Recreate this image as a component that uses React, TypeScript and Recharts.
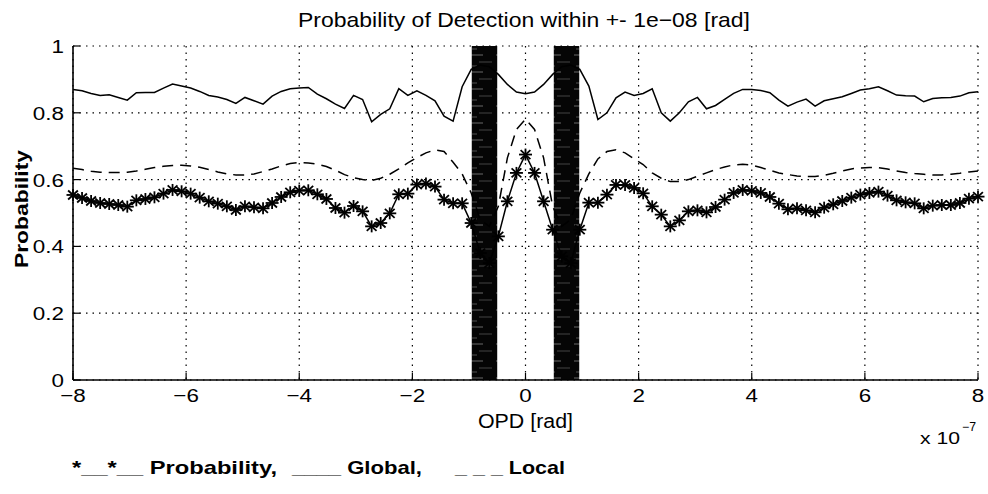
import React from "react";
import {
  CartesianGrid,
  Line,
  LineChart,
  ReferenceArea,
  XAxis,
  YAxis,
} from "recharts";

// OPD in units of 1e-7 rad
const opd = [
  -8, -7.84, -7.68, -7.52, -7.36, -7.2, -7.04, -6.88, -6.72, -6.56,
  -6.4, -6.24, -6.08, -5.92, -5.76, -5.6, -5.44, -5.28, -5.12, -4.96,
  -4.8, -4.64, -4.48, -4.32, -4.16, -4, -3.84, -3.68, -3.52, -3.36,
  -3.2, -3.04, -2.88, -2.72, -2.56, -2.4, -2.24, -2.08, -1.92, -1.76,
  -1.6, -1.44, -1.28, -1.12, -0.96, -0.8, -0.64, -0.48, -0.32, -0.16,
  0,
  0.16, 0.32, 0.48, 0.64, 0.8, 0.96, 1.12, 1.28, 1.44, 1.6,
  1.76, 1.92, 2.08, 2.24, 2.4, 2.56, 2.72, 2.88, 3.04, 3.2,
  3.36, 3.52, 3.68, 3.84, 4, 4.16, 4.32, 4.48, 4.64, 4.8,
  4.96, 5.12, 5.28, 5.44, 5.6, 5.76, 5.92, 6.08, 6.24, 6.4,
  6.56, 6.72, 6.88, 7.04, 7.2, 7.36, 7.52, 7.68, 7.84, 8,
];

const probability = [
  0.554, 0.545, 0.536, 0.53, 0.527, 0.524, 0.519, 0.538, 0.542, 0.547,
  0.558, 0.569, 0.565, 0.558, 0.546, 0.535, 0.528, 0.52, 0.509, 0.52,
  0.517, 0.514, 0.53, 0.548, 0.562, 0.567, 0.568, 0.556, 0.542, 0.515,
  0.501, 0.521, 0.505, 0.46, 0.47, 0.499, 0.556, 0.558, 0.585, 0.588,
  0.579, 0.54, 0.529, 0.529, 0.47, 0.38, 0.35, 0.43, 0.535, 0.62,
  0.675,
  0.62, 0.535, 0.45, 0.37, 0.35, 0.45, 0.531, 0.531, 0.555, 0.584,
  0.584, 0.575, 0.559, 0.52, 0.495, 0.46, 0.478, 0.505, 0.508, 0.502,
  0.518, 0.54, 0.56, 0.569, 0.566, 0.56, 0.548, 0.528, 0.511, 0.514,
  0.508, 0.502, 0.516, 0.526, 0.536, 0.546, 0.555, 0.56, 0.564, 0.552,
  0.538, 0.532, 0.529, 0.514, 0.522, 0.524, 0.524, 0.53, 0.543, 0.549,
];

const globalDet = [
  0.87, 0.866, 0.858, 0.852, 0.854, 0.846, 0.838, 0.86, 0.861, 0.861,
  0.874, 0.886, 0.88, 0.874, 0.864, 0.852, 0.847, 0.84, 0.828, 0.846,
  0.836, 0.826, 0.85, 0.864, 0.872, 0.874, 0.876, 0.856, 0.842, 0.826,
  0.813, 0.852, 0.84, 0.773, 0.795, 0.812, 0.872, 0.852, 0.866, 0.852,
  0.836, 0.79, 0.775, 0.878, 0.93, 0.943, 0.938, 0.915, 0.885, 0.862,
  0.857,
  0.862, 0.885, 0.915, 0.938, 0.943, 0.93, 0.88, 0.78, 0.8, 0.845,
  0.862, 0.852, 0.858, 0.872, 0.8, 0.775, 0.8, 0.833, 0.846, 0.812,
  0.822, 0.84, 0.858, 0.87, 0.87, 0.867, 0.86, 0.838, 0.82, 0.832,
  0.841, 0.82, 0.836, 0.842, 0.848, 0.858, 0.868, 0.872, 0.878, 0.866,
  0.853, 0.851, 0.85, 0.833, 0.843, 0.845, 0.846, 0.85, 0.86, 0.863,
];

const localDet = [
  0.634, 0.63, 0.625, 0.622, 0.621, 0.621, 0.622, 0.626, 0.631, 0.636,
  0.64, 0.642, 0.643, 0.641, 0.637, 0.63, 0.623, 0.617, 0.614, 0.614,
  0.617, 0.624, 0.632, 0.641, 0.648, 0.651, 0.65, 0.646, 0.639, 0.628,
  0.615, 0.606, 0.6, 0.597, 0.604, 0.616, 0.632, 0.65, 0.666, 0.68,
  0.689, 0.684, 0.652, 0.617, 0.56, 0.48, 0.46, 0.52, 0.665, 0.75,
  0.781,
  0.75, 0.665, 0.52, 0.46, 0.48, 0.56, 0.617, 0.662, 0.684, 0.689,
  0.68, 0.662, 0.645, 0.62, 0.604, 0.594, 0.594, 0.6, 0.61, 0.62,
  0.63, 0.638, 0.644, 0.646, 0.643, 0.636, 0.628, 0.62, 0.615, 0.611,
  0.609, 0.609, 0.613, 0.619, 0.626, 0.632, 0.635, 0.636, 0.636, 0.632,
  0.626, 0.621, 0.618, 0.616, 0.614, 0.614, 0.616, 0.619, 0.623, 0.626,
];

// shaded bands (x from, x to)
const bands = [
  [-0.95, -0.5],
  [0.5, 0.95],
];

const xTicks = [-8, -6, -4, -2, 0, 2, 4, 6, 8];
const yTicks = [0, 0.2, 0.4, 0.6, 0.8, 1];

const FONT = "'Liberation Sans', Arial, Helvetica, sans-serif";

const data = opd.map((x, i) => ({
  x,
  prob: probability[i],
  glob: globalDet[i],
  loc: localDet[i],
}));

const fmt = (v: number) => (v < 0 ? "\u2212" + Math.abs(v) : String(v));

const XTick = (props: any) => {
  const { x, y, payload } = props;
  return (
    <g transform={`translate(${x} ${y}) scale(1.18 1)`}>
      <text x={0} y={14} textAnchor="middle" fontFamily={FONT} fontSize={19} fill="#000">
        {fmt(payload.value)}
      </text>
    </g>
  );
};

const YTick = (props: any) => {
  const { x, y, payload } = props;
  return (
    <g transform={`translate(${x} ${y}) scale(1.18 1)`}>
      <text x={0} y={7} textAnchor="end" fontFamily={FONT} fontSize={19} fill="#000">
        {String(payload.value)}
      </text>
    </g>
  );
};

const NoTick = () => <g />;

const Star = (props: any) => {
  const { cx, cy, index } = props;
  if (cx == null || cy == null) return <g key={index} />;
  const rx = 6.5;
  const ry = 6;
  const dx = rx * 0.75;
  const dy = ry * 0.75;
  return (
    <g key={index} stroke="#000" strokeWidth={1.8}>
      <line x1={cx - rx} y1={cy} x2={cx + rx} y2={cy} />
      <line x1={cx} y1={cy - ry} x2={cx} y2={cy + ry} />
      <line x1={cx - dx} y1={cy - dy} x2={cx + dx} y2={cy + dy} />
      <line x1={cx - dx} y1={cy + dy} x2={cx + dx} y2={cy - dy} />
    </g>
  );
};

export default function App() {
  return (
    <div style={{ position: "absolute", left: 0, top: 0, width: 988, height: 494, background: "#fff" }}>
      <LineChart
        width={988}
        height={494}
        data={data}
        margin={{ top: 46, right: 10, left: 0, bottom: 0 }}
      >
        <defs>
          <pattern id="bandFill" width="26" height="17" patternUnits="userSpaceOnUse">
            <rect width="26" height="17" fill="#050505" />
            <line x1="2" y1="4" x2="15" y2="4" stroke="#fff" strokeOpacity={0.4} strokeWidth={1} />
            <line x1="11" y1="11" x2="24" y2="11" stroke="#fff" strokeOpacity={0.25} strokeWidth={1} />
            <line x1="4" y1="15" x2="9" y2="15" stroke="#fff" strokeOpacity={0.3} strokeWidth={1} />
          </pattern>
        </defs>
        <CartesianGrid stroke="#000" strokeDasharray="1.5 5" strokeWidth={1.2} ticks={xTicks} />
        <XAxis
          dataKey="x"
          type="number"
          domain={[-8, 8]}
          ticks={xTicks}
          height={114}
          tickSize={-7}
          tickMargin={15}
          tick={<XTick />}
          axisLine={{ stroke: "#000", strokeWidth: 1.6 }}
          tickLine={{ stroke: "#000", strokeWidth: 1.2 }}
          interval={0}
        />
        <XAxis
          xAxisId="top"
          dataKey="x"
          type="number"
          orientation="top"
          domain={[-8, 8]}
          ticks={xTicks}
          height={0}
          tickSize={-7}
          tick={NoTick}
          axisLine={{ stroke: "#000", strokeWidth: 1.6 }}
          tickLine={{ stroke: "#000", strokeWidth: 1.2 }}
          interval={0}
        />
        <YAxis
          type="number"
          domain={[0, 1]}
          ticks={yTicks}
          width={73}
          tickSize={-7}
          tickMargin={16}
          tick={<YTick />}
          axisLine={{ stroke: "#000", strokeWidth: 1.6 }}
          tickLine={{ stroke: "#000", strokeWidth: 1.2 }}
          interval={0}
        />
        <YAxis
          yAxisId="right"
          type="number"
          orientation="right"
          domain={[0, 1]}
          ticks={yTicks}
          width={0}
          tickSize={-7}
          tick={NoTick}
          axisLine={{ stroke: "#000", strokeWidth: 1.6 }}
          tickLine={{ stroke: "#000", strokeWidth: 1.2 }}
          interval={0}
        />
        {bands.map(([a, b], i) => (
          <ReferenceArea
            key={i}
            x1={a}
            x2={b}
            y1={0}
            y2={1}
            fill="url(#bandFill)"
            fillOpacity={1}
            stroke="none"
          />
        ))}
        <Line
          type="linear"
          dataKey="glob"
          stroke="#000"
          strokeWidth={1.5}
          dot={false}
          isAnimationActive={false}
        />
        <Line
          type="linear"
          dataKey="loc"
          stroke="#000"
          strokeWidth={1.5}
          strokeDasharray="11 7"
          dot={false}
          isAnimationActive={false}
        />
        <Line
          type="linear"
          dataKey="prob"
          stroke="#000"
          strokeWidth={1.5}
          dot={Star}
          isAnimationActive={false}
        />
      </LineChart>
      <svg
        width={988}
        height={494}
        style={{ position: "absolute", left: 0, top: 0, pointerEvents: "none" }}
        fontFamily={FONT}
        fill="#000"
      >
        <text x={298} y={27} fontSize={21} textLength={452} lengthAdjust="spacingAndGlyphs">
          Probability of Detection within +- 1e{"\u2212"}08 [rad]
        </text>
        <text
          transform="translate(28 209) rotate(-90)"
          textAnchor="middle"
          fontSize={19}
          fontWeight="bold"
          textLength={118}
          lengthAdjust="spacingAndGlyphs"
        >
          Probability
        </text>
        <text x={478} y={428} fontSize={20} textLength={95} lengthAdjust="spacingAndGlyphs">
          OPD [rad]
        </text>
        <text x={920} y={444} fontSize={17} textLength={40} lengthAdjust="spacingAndGlyphs">
          x 10
        </text>
        <text x={962} y={431} fontSize={12} textLength={14} lengthAdjust="spacingAndGlyphs">
          {"\u2212"}7
        </text>
        <text x={72} y={474} fontSize={19} fontWeight="bold" textLength={205} lengthAdjust="spacingAndGlyphs">
          *__*__ Probability,
        </text>
        <text x={292} y={474} fontSize={19} fontWeight="bold" textLength={130} lengthAdjust="spacingAndGlyphs">
          ____ Global,
        </text>
        <text x={455} y={474} fontSize={19} fontWeight="bold" textLength={110} lengthAdjust="spacingAndGlyphs">
          _ _ _ Local
        </text>
      </svg>
    </div>
  );
}
